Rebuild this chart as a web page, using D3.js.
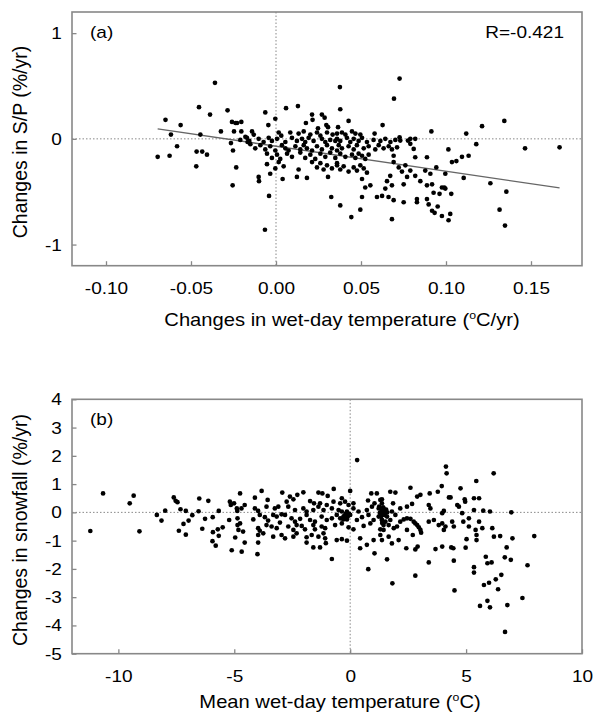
<!DOCTYPE html>
<html>
<head>
<meta charset="utf-8">
<script src="https://cdn.jsdelivr.net/npm/d3@7"></script>
<style>
  body { margin: 0; background: #fff; }
  text { font-family: "Liberation Sans", Arial, sans-serif; fill: #000; }
</style>
</head>
<body>
<svg width="595" height="713"></svg>
<script>
// ---- data ----
const aXTicks = [-0.10, -0.05, 0, 0.05, 0.10, 0.15];
const aYTicks = [-1, 0, 1];
const bXTicks = [-10, -5, 0, 5, 10];
const bYTicks = [-5, -4, -3, -2, -1, 0, 1, 2, 3, 4];

const aLabelX = "Changes in wet-day temperature (";
const aLabelXTail = "C/yr)";
const aLabelY = "Changes in S/P (%/yr)";
const bLabelX = "Mean wet-day temperature (";
const bLabelXTail = "C)";
const bLabelY = "Changes in snowfall (%/yr)";
const aCorr = "R=-0.421";

// regression line endpoints, panel (a)
const aFit = [[-0.0696, 0.095], [0.1668, -0.464]];

// panel (a): [change in wet-day temperature, change in S/P]
const aPoints = [
  [-0.0359,0.53],[-0.0453,0.30],[-0.0388,0.23],[-0.0285,0.27],[-0.065,0.18],[-0.0561,0.13],[-0.0618,0.04],
  [-0.0445,0.04],[-0.0324,0.07],[-0.0259,0.16],[-0.0238,0.15],[-0.0229,0.15],[-0.0204,0.16],[-0.0247,0.07],
  [-0.0204,0.07],[-0.021,-0.01],[-0.018,0.02],[-0.0167,-0.03],[-0.0265,-0.04],[-0.0253,-0.11],[-0.0582,-0.07],
  [-0.0696,-0.17],[-0.0626,-0.16],[-0.0467,-0.12],[-0.0434,-0.12],[-0.0406,-0.15],[-0.0469,-0.26],[-0.0234,-0.27],
  [-0.0255,-0.44],[-0.010,-0.40],[-0.0041,-0.54],[-0.0065,-0.86],
  [-0.0141,0.07],[-0.0131,0.04],[0.0016,0.06],[0.0031,0.03],[0.0084,0.06],[0.0133,0.05],[0.0163,0.07],
  [0.0202,0.04],[0.0241,0.06],[0.0261,0.03],[0.0300,0.06],[0.0333,0.04],[0.0359,0.05],
  [-0.0171,0.01],[-0.0157,-0.02],[-0.0102,0.0],[-0.0073,-0.03],[-0.0043,0.01],[-0.0024,-0.02],[0.0006,0.0],
  [0.0055,-0.03],[0.0094,0.01],[0.0123,-0.02],[0.0153,0.0],[0.0172,-0.03],[0.0192,0.01],[0.0221,-0.02],
  [0.0270,0.0],[0.0290,-0.03],[0.0319,-0.01],[0.0349,-0.02],
  [-0.0151,-0.05],[-0.0122,-0.09],[-0.0092,-0.06],[-0.0063,-0.10],[-0.0034,-0.07],[-0.0004,-0.11],[0.0035,-0.06],
  [0.0055,-0.09],[0.0074,-0.11],[0.0114,-0.07],[0.0143,-0.10],[0.0163,-0.06],[0.0182,-0.09],[0.0212,-0.11],
  [0.0241,-0.07],[0.0270,-0.10],[0.0300,-0.06],[0.0329,-0.09],[0.0359,-0.11],
  [-0.0053,-0.14],[-0.0024,-0.18],[0.0006,-0.15],[0.0025,-0.19],[0.0065,-0.14],[0.0094,-0.17],[0.0143,-0.13],
  [0.0172,-0.18],[0.0202,-0.15],[0.0231,-0.19],[0.0261,-0.14],[0.0290,-0.17],[0.0319,-0.13],[0.0349,-0.18],
  [-0.0053,-0.24],[-0.0004,-0.28],[0.0016,-0.22],[0.0045,-0.26],[0.0133,-0.29],[0.0212,-0.22],[0.0241,-0.27],
  [0.0261,-0.23],[0.0280,-0.29],[0.0300,-0.25],[0.0329,-0.28],[0.0359,-0.23],
  [-0.0102,-0.36],[-0.0034,-0.33],[0.0039,-0.38],[0.0123,-0.36],[0.0182,-0.37],[0.0306,-0.36],
  [-0.0063,0.25],[0.0059,0.29],[0.0129,0.31],[-0.0004,0.19],[-0.0045,0.13],[0.0212,0.23],[0.0215,0.18],
  [0.027,0.23],[0.0286,0.20],[0.0176,0.15],[0.0296,0.13],[0.0306,0.11],[0.0247,0.10],[0.0325,-0.55],
  [0.0388,0.06],[0.0408,0.04],[0.0447,0.07],[0.0467,0.05],[0.0496,0.04],
  [0.0359,0.0],[0.0378,-0.02],[0.0417,0.01],[0.0437,-0.03],[0.0457,0.0],[0.0486,-0.02],[0.0506,0.01],
  [0.0535,-0.03],[0.0574,-0.01],[0.0614,-0.02],[0.0643,0.0],[0.0673,-0.03],[0.0702,-0.01],
  [0.0369,-0.06],[0.0388,-0.09],[0.0427,-0.07],[0.0457,-0.10],[0.0476,-0.06],[0.0516,-0.09],[0.0545,-0.07],
  [0.0584,-0.10],[0.0604,-0.06],[0.0633,-0.09],[0.0663,-0.07],[0.0682,-0.10],[0.0712,-0.08],
  [0.0378,-0.14],[0.0408,-0.17],[0.0447,-0.15],[0.0467,-0.18],[0.0486,-0.14],[0.0506,-0.16],[0.0525,-0.19],
  [0.0545,-0.15],[0.0692,-0.16],
  [0.0359,-0.25],[0.0378,-0.29],[0.0398,-0.26],[0.0427,-0.31],[0.0457,-0.27],[0.0476,-0.30],[0.0496,-0.25],
  [0.0516,-0.28],[0.0535,-0.32],[0.0722,-0.27],[0.0741,-0.31],[0.0761,-0.25],
  [0.0727,0.57],[0.0376,0.49],[0.0694,0.38],[0.0378,0.28],[0.0427,0.17],[0.0365,0.11],[0.0627,0.13],
  [0.058,0.05],[0.0914,0.07],[0.0727,0.015],[0.0731,-0.016],[0.0776,-0.016],[0.079,0.0],[0.0819,0.0],
  [0.079,-0.047],[0.081,-0.095],[0.0819,-0.174],[0.0888,-0.174],[0.0692,-0.22],
  [0.0506,-0.38],[0.0525,-0.46],[0.0555,-0.44],[0.0653,-0.40],[0.0672,-0.35],[0.0682,-0.44],[0.0643,-0.47],
  [0.0751,-0.43],[0.0771,-0.36],[0.079,-0.30],[0.0819,-0.35],[0.0849,-0.40],[0.0878,-0.30],[0.0888,-0.44],
  [0.0918,-0.43],[0.0506,-0.55],[0.0594,-0.55],[0.0624,-0.54],[0.0662,-0.55],[0.0692,-0.58],[0.0751,-0.60],
  [0.0829,-0.57],[0.0829,-0.60],[0.0888,-0.57],[0.0898,-0.62],[0.0378,-0.63],[0.0496,-0.67],[0.0443,-0.74],
  [0.0682,-0.76],[0.0933,-0.70],
  [0.1119,0.05],[0.1212,0.12],[0.1343,0.17],[0.1465,-0.09],[0.1668,-0.08],[0.1178,-0.05],[0.1014,-0.10],
  [0.1133,-0.16],[0.1094,-0.17],[0.1061,-0.21],[0.1035,-0.22],[0.0943,-0.27],[0.0996,-0.33],[0.1104,-0.37],
  [0.1261,-0.42],[0.1355,-0.50],[0.0908,-0.33],[0.0976,-0.46],[0.099,-0.46],[0.0996,-0.47],[0.0962,-0.52],
  [0.0927,-0.51],[0.1031,-0.52],[0.0951,-0.64],[0.0918,-0.68],[0.0976,-0.73],[0.1025,-0.71],[0.1015,-0.77],
  [0.1315,-0.67],[0.1347,-0.82]
];

// panel (b): [mean wet-day temperature, change in snowfall]
const bPoints = [
  [-11.21,-0.66],[-10.66,0.67],[-9.51,0.32],[-9.34,0.59],[-9.09,-0.67],[-8.34,-0.09],[-8.14,-0.29],[-7.98,0.06],
  [-7.61,0.53],[-7.53,0.41],[-7.45,0.36],[-7.32,0.11],[-7.09,0.05],[-6.81,-0.10],[-6.97,-0.29],[-7.19,-0.41],
  [-7.39,-0.65],[-7.09,-0.79],[-6.54,0.04],[-6.51,0.49],[-6.12,0.41],[-6.26,-0.23],[-6.38,-0.58],[-5.93,-0.17],
  [-5.67,0.05],[-5.50,-0.53],[-5.71,-0.60],[-5.92,-0.70],[-5.67,-0.83],[-5.94,-1.02],[-5.80,-1.18],[-5.22,-0.27],
  [-5.19,0.38],[-5.15,0.26],[-5.01,0.32],[-5.11,-1.34],[-4.89,0.14],[-4.86,-0.21],[-4.86,-0.45],[-4.82,-0.62],
  [-4.96,-0.89],[-4.75,0.67],[-4.75,-0.39],[-4.68,-1.39],[-4.87,0.05],
  [0.30,1.85],[-0.71,0.83],[0.0,0.76],[-3.82,0.76],[-2.93,0.70],[-2.28,0.62],[-2.02,0.71],[-1.37,0.70],
  [-1.20,0.67],[-0.97,0.58],[-0.36,0.50],[0.91,0.67],[1.15,0.67],[-4.11,0.52],[-3.56,0.44],[-2.60,0.56],
  [-2.45,0.46],[-1.73,0.40],[-1.56,0.32],[-1.30,0.32],[-1.01,0.26],[-0.72,0.38],[-0.43,0.32],[-0.22,0.38],
  [-0.07,0.26],[0.14,0.32],[0.77,0.42],[1.05,0.32],[1.37,0.46],
  [-4.69,0.14],[-4.55,0.26],[-4.11,0.14],[-3.97,0.05],[-3.61,0.20],[-3.25,0.14],[-3.10,0.20],[-2.74,0.38],
  [-2.67,0.20],[-2.38,0.08],[-2.02,0.14],[-1.88,0.03],[-1.59,0.08],[-1.37,0.20],[-1.15,0.08],[-0.79,0.14],
  [-0.50,0.08],[-0.36,0.03],[-0.14,0.03],[0.14,0.14],[0.36,0.03],[0.72,0.08],[0.94,0.20],[1.23,0.14],[1.44,0.08],
  [-4.18,-0.25],[-3.90,-0.09],[-3.68,-0.17],[-3.54,-0.29],[-3.32,-0.09],[-3.17,-0.15],[-2.96,-0.07],
  [-2.81,-0.09],[-2.53,-0.21],[-2.38,-0.33],[-2.16,-0.23],[-1.88,-0.09],[-1.73,-0.27],[-1.52,-0.33],
  [-1.23,-0.15],[-1.01,-0.27],[-0.79,-0.21],[-0.58,-0.09],[-0.43,-0.21],[-0.29,-0.15],[-0.14,-0.25],
  [0.0,-0.09],[0.29,-0.27],[0.51,-0.17],[0.79,-0.09],[1.01,-0.27],[1.23,-0.15],[1.37,-0.27],
  [-3.97,-0.56],[-3.90,-0.65],[-3.61,-0.45],[-3.39,-0.50],[-3.17,-0.56],[-3.03,-0.36],[-2.67,-0.50],
  [-2.45,-0.62],[-2.31,-0.45],[-2.09,-0.48],[-1.95,-0.60],[-1.59,-0.45],[-1.52,-0.60],[-1.23,-0.50],
  [-1.08,-0.56],[-0.65,-0.45],[-0.36,-0.39],[-0.07,-0.53],[0.14,-0.60],[0.58,-0.48],[0.87,-0.39],
  [1.30,-0.60],[1.44,-0.45],
  [-4.62,-0.68],[-3.97,-0.80],[-3.75,-0.74],[-3.32,-0.86],[-2.96,-0.80],[-2.81,-0.92],[-2.45,-0.86],
  [-2.31,-0.74],[-1.88,-0.88],[-1.66,-0.80],[-1.37,-0.86],[-1.15,-0.74],[-1.08,-0.92],[-0.58,-0.98],
  [-0.36,-0.95],[-0.14,-1.0],[0.43,-0.92],[1.01,-0.98],[1.37,-0.98],
  [-4.55,-1.07],[-3.97,-1.07],[-1.88,-1.07],[-1.59,-1.24],[-1.30,-1.24],[-1.05,-1.09],[0.43,-1.27],
  [0.72,-1.15],[-4.00,-1.48],[1.05,-1.45],[-0.79,-1.65],[0.78,-2.01],
  [-0.25,-0.12],[-0.18,-0.20],[-0.10,-0.15],[-0.30,-0.25],[-0.05,-0.05],[-0.20,-0.05],
  [4.13,1.62],[4.16,1.38],[6.19,1.38],[5.44,1.11],[3.95,0.93],[4.76,0.85],[2.60,0.87],[1.73,0.73],[1.95,0.70],
  [2.89,0.56],[3.03,0.62],[3.43,0.67],[3.78,0.73],[4.26,0.53],[4.33,0.53],[4.94,0.46],[4.96,0.38],[5.34,0.50],
  [5.56,0.50],[4.62,0.26],[4.69,0.20],[3.39,0.26],[3.46,0.14],[2.67,0.30],[2.45,0.20],[2.16,0.14],[4.04,0.05],
  [3.97,-0.03],[4.83,-0.03],[5.34,0.08],[5.74,0.06],[6.03,0.03],[6.95,0.0],
  [1.30,0.44],[1.37,0.32],[1.44,0.14],[1.52,0.03],[1.41,-0.09],[1.59,-0.15],[1.37,-0.27],[1.52,-0.33],
  [1.73,-0.27],[1.66,-0.45],[1.44,-0.62],[1.30,-0.80],[1.66,-0.86],[1.80,-1.10],[1.88,-0.56],[2.02,-0.50],
  [1.80,0.03],[1.95,-0.09],[1.85,0.32],
  [1.35,0.05],[1.40,-0.05],[1.45,0.0],[1.50,-0.10],[1.55,0.10],[1.33,-0.15],[1.60,0.0],[1.42,0.18],
  [1.28,-0.02],[1.38,-0.38],[1.25,0.20],
  [2.16,-0.33],[2.31,-0.25],[2.45,-0.21],[2.60,-0.23],[2.74,-0.33],[2.81,-0.39],[2.89,-0.45],[2.96,-0.53],
  [3.03,-0.62],[3.06,-0.72],[2.45,-0.62],[2.70,-0.80],[3.39,-0.33],[3.61,-0.27],[3.82,-0.45],[3.97,-0.39],
  [4.11,-0.50],[4.04,-0.62],[4.40,-0.33],[4.47,-0.50],[4.88,-0.33],[5.12,-0.21],[5.12,-0.50],[5.41,-0.62],
  [5.56,-0.33],[5.70,-0.56],[6.13,-0.56],[6.20,-0.86],[6.47,-0.84],[7.00,-0.92],[7.94,-0.84],
  [2.09,-0.98],[2.42,-1.27],[2.81,-1.31],[2.91,-1.21],[3.68,-1.30],[3.97,-1.21],[4.36,-1.24],[4.45,-1.27],
  [4.98,-1.25],[5.02,-0.95],[5.45,-0.98],[5.45,-0.80],[6.75,-1.24],[6.93,-1.68],[6.67,-1.59],[1.59,-1.66],
  [3.39,-1.77],[4.47,-1.71],[5.85,-1.57],[5.92,-1.80],[6.10,-1.77],[5.34,-1.94],[5.34,-2.13],[6.52,-2.21],
  [6.28,-2.37],[5.99,-2.49],[5.77,-2.57],[7.65,-1.87],[2.81,-2.24],[1.82,-2.51],[4.50,-2.76],[6.38,-2.72],
  [7.43,-3.03],[5.60,-3.31],[5.92,-3.13],[6.03,-3.36],[6.78,-3.28],[6.68,-4.23]
];

// ---- drawing ----
let svg = d3.select("svg");
const frameColor = "#888";
const stretch = 1.12; // the figure's lettering is slightly wide

function hText(g, x, y, str, anchor, size) {
  return g.append("text")
    .attr("transform", `translate(${x},${y}) scale(${stretch},1)`)
    .attr("text-anchor", anchor)
    .attr("font-size", size)
    .text(str);
}

function drawPanel(p) {
  let g = svg.append("g");
  let x = d3.scaleLinear().domain(p.xDomain).range([p.left, p.right]);
  let y = d3.scaleLinear().domain(p.yDomain).range([p.bottom, p.top]);

  // dotted zero lines
  g.append("line")
    .attr("x1", x(0)).attr("x2", x(0)).attr("y1", p.top).attr("y2", p.bottom)
    .attr("stroke", frameColor).attr("stroke-width", 1).attr("stroke-dasharray", "1.5,2");
  g.append("line")
    .attr("x1", p.left).attr("x2", p.right).attr("y1", y(0)).attr("y2", y(0))
    .attr("stroke", frameColor).attr("stroke-width", 1).attr("stroke-dasharray", "1.5,2");

  // axes with inward ticks
  let xAxis = g.append("g")
    .attr("transform", `translate(0,${p.bottom})`)
    .call(d3.axisBottom(x).tickValues(p.xTicks).tickFormat(p.xFormat)
      .tickSizeInner(-4.5).tickSizeOuter(0).tickPadding(16));
  let yAxis = g.append("g")
    .attr("transform", `translate(${p.left},0)`)
    .call(d3.axisLeft(y).tickValues(p.yTicks).tickFormat(d => String(d))
      .tickSizeInner(-4.5).tickSizeOuter(0).tickPadding(9));

  [xAxis, yAxis].forEach(a => {
    a.select(".domain").remove();
    a.selectAll(".tick line").attr("stroke", frameColor).attr("stroke-width", 1.3);
    a.selectAll(".tick text")
      .attr("fill", "#000")
      .attr("font-size", 17)
      .attr("font-family", '"Liberation Sans", Arial, sans-serif')
      .attr("transform", `scale(${stretch},1)`);
  });

  // frame
  g.append("rect")
    .attr("x", p.left).attr("y", p.top)
    .attr("width", p.right - p.left).attr("height", p.bottom - p.top)
    .attr("fill", "none").attr("stroke", frameColor).attr("stroke-width", 1.6);

  // fit line
  if (p.fit) {
    g.append("line")
      .attr("x1", x(p.fit[0][0])).attr("y1", y(p.fit[0][1]))
      .attr("x2", x(p.fit[1][0])).attr("y2", y(p.fit[1][1]))
      .attr("stroke", "#666").attr("stroke-width", 1.3);
  }

  // points
  g.append("g")
    .selectAll("circle")
    .data(p.points)
    .join("circle")
    .attr("cx", d => x(d[0]))
    .attr("cy", d => y(d[1]))
    .attr("r", 2.35)
    .attr("fill", "#000");

  // panel tag
  hText(g, p.left + 18, p.top + 26, p.tag, "start", 17);
  if (p.corr) hText(g, p.right - 18, p.top + 26, p.corr, "end", 17);

  // x label with superscript o
  let xl = g.append("text")
    .attr("transform", `translate(${p.xLabelX},${p.bottom + p.xLabelGap}) scale(${stretch},1)`)
    .attr("text-anchor", "middle")
    .attr("font-size", 18);
  xl.append("tspan").text(p.xLabel);
  xl.append("tspan").attr("font-size", 11).attr("dy", -7).text("o");
  xl.append("tspan").attr("dy", 7).text(p.xLabelTail);

  // y label
  g.append("text")
    .attr("transform", `translate(27,${p.yLabelY}) rotate(-90)`)
    .attr("text-anchor", "middle")
    .attr("font-size", 19.5)
    .text(p.yLabel);
}

drawPanel({
  left: 72, right: 582, top: 12, bottom: 265.7,
  xDomain: [-0.12, 0.18], yDomain: [-1.2, 1.2],
  xTicks: aXTicks, yTicks: aYTicks,
  xFormat: d => d.toFixed(2),
  points: aPoints, fit: aFit,
  tag: "(a)", corr: aCorr,
  xLabel: aLabelX, xLabelTail: aLabelXTail, xLabelX: 342, xLabelGap: 60,
  yLabel: aLabelY, yLabelY: 142
});

drawPanel({
  left: 72, right: 582, top: 399.3, bottom: 653.7,
  xDomain: [-12, 10], yDomain: [-5, 4],
  xTicks: bXTicks, yTicks: bYTicks,
  xFormat: d => String(d),
  points: bPoints, fit: null,
  tag: "(b)", corr: null,
  xLabel: bLabelX, xLabelTail: bLabelXTail, xLabelX: 340, xLabelGap: 54,
  yLabel: bLabelY, yLabelY: 530
});
</script>
</body>
</html>
